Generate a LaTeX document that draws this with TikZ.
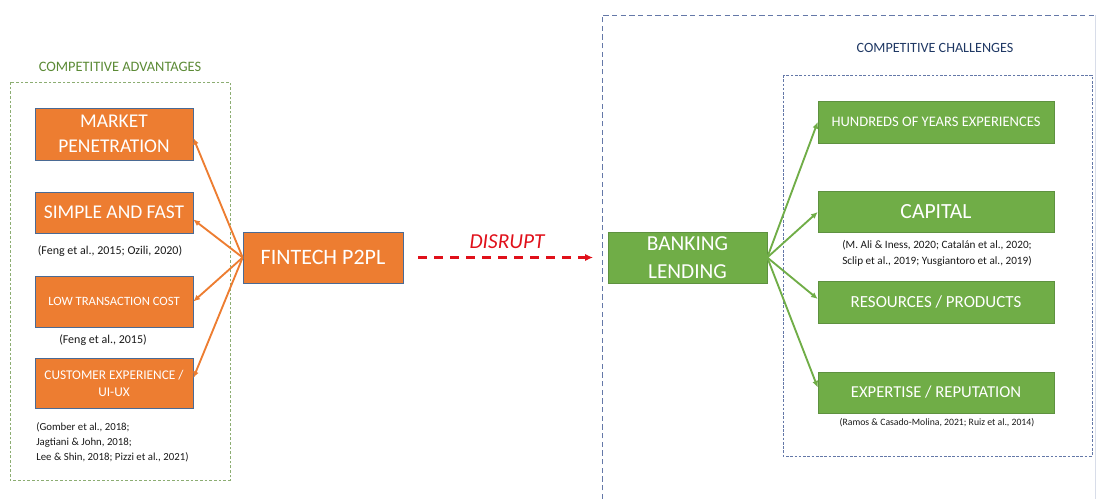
\documentclass[tikz,border=0pt]{standalone}
\usepackage{fontspec}
\setmainfont{Carlito}
\usepackage{xcolor}
\usetikzlibrary{
    arrows.meta,
    calc,
    positioning
}
\definecolor{advorange}{HTML}{ED7D31}
\definecolor{chagreen}{HTML}{70AD47}
\definecolor{boxline}{HTML}{4A6A94}
\definecolor{greenline}{HTML}{5E9140}
\definecolor{advtitle}{HTML}{5B8A35}
\definecolor{chatitle}{HTML}{1F3864}
\definecolor{frameblue}{HTML}{6478A8}
\definecolor{disred}{HTML}{E0101A}
\tikzset{sadv/.style={draw=boxline, line width=0.5pt, fill=advorange, text=white, inner sep=0pt, align=center, minimum width=118.5pt}}
\tikzset{scha/.style={draw=greenline, line width=0.4pt, fill=chagreen, text=white, inner sep=0pt, align=center, minimum width=177pt}}
\tikzset{scite/.style={inner sep=0pt, text=black!90}}
\tikzset{oarrow/.style={draw=advorange, line width=1.4pt, -{Latex[length=5pt, width=4.5pt]}}}
\tikzset{garrow/.style={draw=chagreen, line width=1.4pt, -{Latex[length=5pt, width=4.5pt]}}}

\begin{document}
\begin{tikzpicture}[x=0.75pt, y=-0.75pt]
    \useasboundingbox (0, 0) rectangle (1097, 499);

    % frames
    \draw[advtitle!70, line width=0.5pt, dash pattern=on 2pt off 1.5pt] (10, 82) rectangle (230, 480);
    \draw[frameblue, line width=0.6pt, dash pattern=on 4pt off 2.5pt] (602, 499) -- (602, 15) -- (1095, 15);
    \draw[frameblue!25, line width=0.4pt] (1095, 15) -- (1095, 499);
    \draw[frameblue, line width=0.5pt, dash pattern=on 2pt off 1.2pt] (783, 75) rectangle (1092, 456);

    \node[text=advtitle, font=\fontsize{10.8}{13}\selectfont] (advtitle) at (120, 67) {COMPETITIVE ADVANTAGES};
    \node[text=chatitle, font=\fontsize{10.6}{13}\selectfont] (chatitle) at (935, 48) {COMPETITIVE CHALLENGES};

    % advantages
    \node[sadv, minimum height=39pt, font=\fontsize{14.6}{18.75}\selectfont] (market) at (114, 134) {MARKET\\PENETRATION};
    \node[sadv, minimum height=30.75pt, font=\fontsize{14.6}{17}\selectfont] (simple) at (114, 212.5) {SIMPLE AND FAST};
    \node[scite, font=\fontsize{9}{11}\selectfont] (cite1) at (110, 251) {(Feng et al., 2015; Ozili, 2020)};
    \node[sadv, minimum height=38.25pt, font=\fontsize{9.5}{12}\selectfont] (lowcost) at (114, 301.5) {LOW TRANSACTION COST};
    \node[scite, font=\fontsize{9}{11}\selectfont] (cite2) at (103, 340) {(Feng et al., 2015)};
    \node[sadv, minimum height=37.5pt, font=\fontsize{10}{12.75}\selectfont] (customer) at (114, 383) {CUSTOMER EXPERIENCE /\\UI-UX};
    \node[scite, anchor=west, align=left, font=\fontsize{8.1}{11.25}\selectfont] (cite3) at (36, 442) {(Gomber et al., 2018;\\Jagtiani \& John, 2018;\\Lee \& Shin, 2018; Pizzi et al., 2021)};

    \node[sadv, minimum width=120pt, minimum height=38.25pt, font=\fontsize{16.5}{19}\selectfont] (fintech) at (323, 257.5) {FINTECH P2PL};

    % challenges
    \node[scha, minimum width=119.25pt, minimum height=38.25pt, font=\fontsize{16}{21}\selectfont] (banking) at (687.5, 257.5) {BANKING\\LENDING};

    \node[scha, minimum height=31.5pt, font=\fontsize{10.9}{13}\selectfont] (hundreds) at (936, 122) {HUNDREDS OF YEARS EXPERIENCES};
    \node[scha, minimum height=30.75pt, font=\fontsize{16.2}{19}\selectfont] (capital) at (936, 212) {CAPITAL};
    \node[scite, align=center, font=\fontsize{8.4}{12.5}\selectfont] (cite4) at (937, 253.5) {(M. Ali \& Iness, 2020; Catalán et al., 2020;\\Sclip et al., 2019; Yusgiantoro et al., 2019)};
    \node[scha, minimum height=31.5pt, font=\fontsize{12.7}{15}\selectfont] (resources) at (936, 302) {RESOURCES / PRODUCTS};
    \node[scha, minimum height=30.75pt, font=\fontsize{12.5}{15}\selectfont] (expertise) at (936, 392.5) {EXPERTISE / REPUTATION};
    \node[scite, font=\fontsize{7.3}{9}\selectfont] (cite5) at (937, 423) {(Ramos \& Casado-Molina, 2021; Ruiz et al., 2014)};

    \node[text=disred, font=\fontsize{16}{19}\selectfont\itshape] (disrupt) at (507, 242) {DISRUPT};

    \draw
    (fintech.west) edge[oarrow] ($(market.east)+(0, 4)$)
    (fintech.west) edge[oarrow] ($(simple.east)+(0, 7)$)
    (fintech.west) edge[oarrow] (lowcost.east)
    (fintech.west) edge[oarrow] ($(customer.east)+(0, -5)$);

    \draw
    (banking.east) edge[garrow] (hundreds.west)
    (banking.east) edge[garrow] (capital.west)
    (banking.east) edge[garrow] ($(resources.west)+(0, -3)$)
    (banking.east) edge[garrow] ($(expertise.west)+(0, -5)$);

    \draw[disred, line width=1.7pt, dash pattern=on 7pt off 5pt, -{Latex[length=6pt, width=5.5pt]}, shorten <=11pt, shorten >=11pt] (fintech.east) -- (banking.west);
\end{tikzpicture}
\end{document}
